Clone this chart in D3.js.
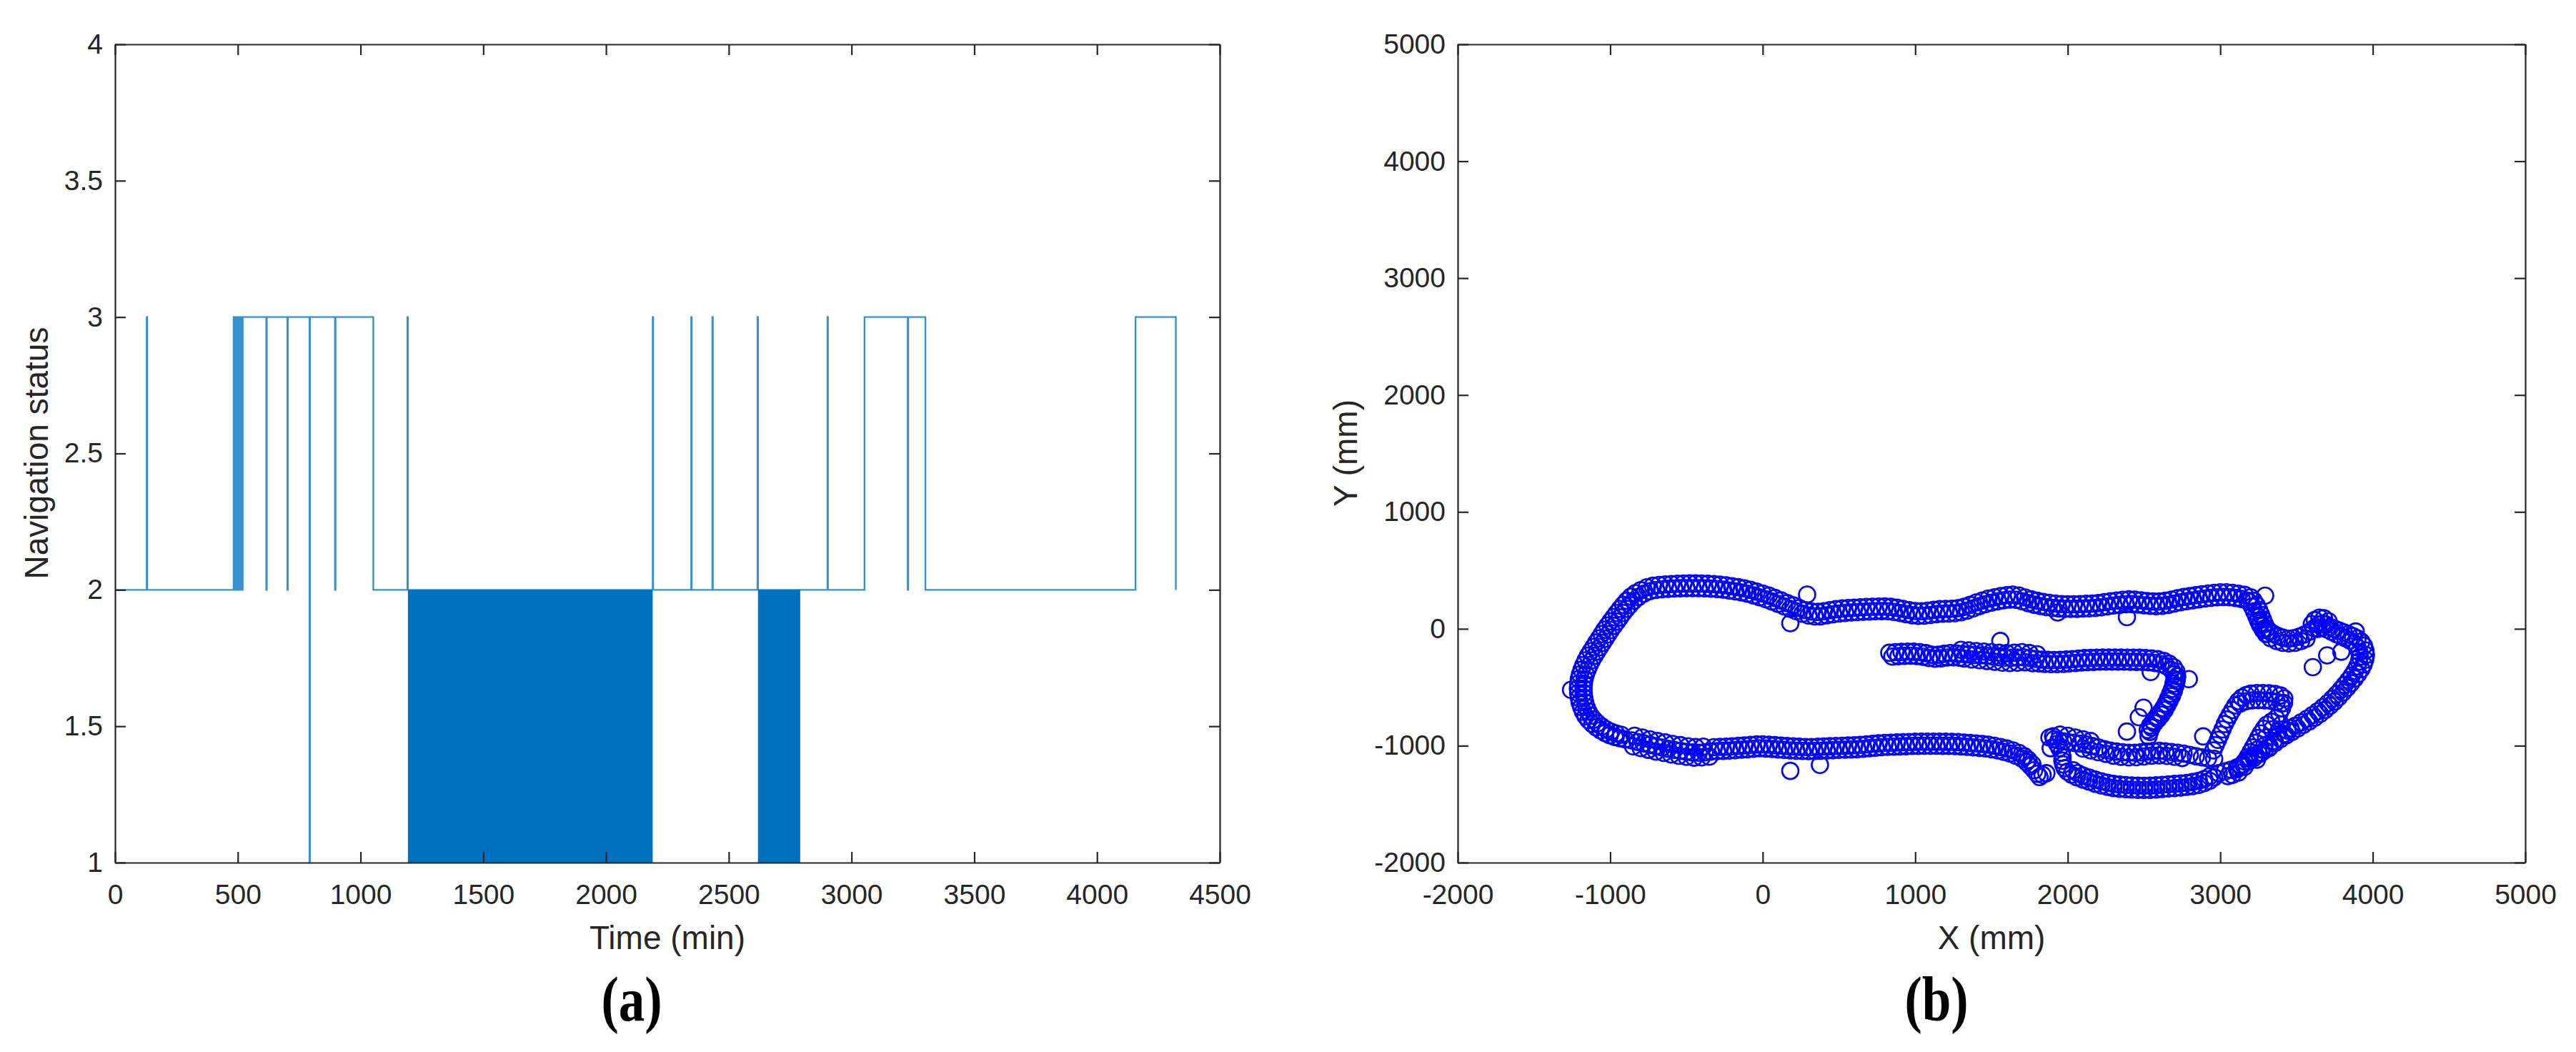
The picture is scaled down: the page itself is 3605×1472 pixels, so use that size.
<!DOCTYPE html>
<html><head><meta charset="utf-8">
<script src="https://cdn.jsdelivr.net/npm/d3@7"></script>
<style>body{margin:0;background:#fff} svg{display:block}</style>
</head><body>
<svg id="c" width="3605" height="1472"></svg>
<script>
// ---------- Panel (a): navigation status ----------
const statusTimes  = [0,129,131,483,487,490,494,497,503,508,514,520,616,618,702,704,792,794,896,898,1052,1191,1193,2190,2192,2347,2349,2433,2435,2617,2619,2902,2904,3053,3229,3231,3301,4157,4321];
const statusValues = [2,3,2,3,2,3,2,3,2,3,2,3,2,3,2,3,1,3,2,3,2,3,2,3,2,3,2,3,2,3,2,3,2,3,2,3,2,3,2];
// intervals where the status toggles 1 <-> 2 so fast that it renders as a solid block
const denseStart = [1193, 2619];
const denseEnd   = [2190, 2791];
const denseLow = 1, denseHigh = 2;
const timeTicks = [0,500,1000,1500,2000,2500,3000,3500,4000,4500];
const statusTicks = [1,1.5,2,2.5,3,3.5,4];

// ---------- Panel (b): trajectory (mm) ----------
const trackTop = [[-760,355],[-720,368],[-680,375],[-640,380],[-600,383],[-560,386],[-520,387],[-480,388],[-440,388],[-400,387],[-360,385],[-320,382],[-280,378],[-240,372],[-200,364],[-160,356],[-120,346],[-80,333],[-40,318],[0,302],[40,284],[80,264],[120,243],[160,220],[200,200],[240,178],[280,160],[320,148],[360,145],[400,150],[440,160],[480,168],[520,174],[560,178],[600,181],[640,184],[680,187],[720,189],[760,190],[800,191],[840,188],[880,180],[920,170],[960,160],[1000,152],[1040,150],[1080,155],[1120,162],[1160,168],[1200,170],[1240,172],[1280,176],[1320,188],[1360,205],[1400,225],[1440,242],[1480,258],[1520,270],[1560,280],[1600,288],[1640,292],[1680,285],[1720,268],[1760,252],[1800,240],[1840,230],[1880,222],[1920,216],[1960,212],[2000,210],[2040,210],[2080,212],[2120,214],[2160,216],[2200,220],[2240,228],[2280,236],[2320,242],[2360,248],[2400,252],[2440,250],[2480,244],[2520,238],[2560,234],[2600,234],[2640,240],[2680,250],[2720,262],[2760,272],[2800,280],[2840,288],[2880,296],[2920,302],[2960,308],[3000,312],[3040,312],[3080,308],[3120,300],[3160,290],[3200,270],
  [-740,322],[-700,332],[-660,338],[-620,342],[-580,345],[-540,347],[-500,348],[-460,348],[-420,348],[-380,346],[-340,344],[-300,340],[-260,335],[-220,328],[-180,320],[-140,311],[-100,300],[-60,286],[-20,270],[20,253],[60,234],[100,213],[140,192],[180,170],[220,150],[260,129],[300,114],[340,106],[380,107],[420,115],[460,124],[500,131],[540,136],[580,140],[620,143],[660,146],[700,148],[740,150],[780,151],[820,150],[860,144],[900,135],[940,125],[980,116],[1020,111],[1060,112],[1100,118],[1140,125],[1180,129],[1220,131],[1260,134],[1300,142],[1340,156],[1380,175],[1420,194],[1460,210],[1500,224],[1540,235],[1580,244],[1620,250],[1660,248],[1700,236],[1740,220],[1780,206],[1820,195],[1860,186],[1900,179],[1940,174],[1980,171],[2020,170],[2060,171],[2100,173],[2140,175],[2180,178],[2220,184],[2260,192],[2300,199],[2340,205],[2380,210],[2420,211],[2460,207],[2500,201],[2540,196],[2580,194],[2620,197],[2660,205],[2700,216],[2740,227],[2780,236],[2820,244],[2860,252],[2900,259],[2940,265],[2980,270],[3020,272],[3060,270],[3100,264],[3140,255],[3180,240]];
const trackLeft = [[-800,330],[-835,305],[-865,275],[-892,240],[-915,205],[-937,170],[-958,135],[-978,100],[-998,64],[-1018,28],[-1038,-8],[-1056,-45],[-1074,-82],[-1092,-118],[-1110,-155],[-1128,-192],[-1146,-230],[-1162,-270],[-1176,-310],[-1188,-350],[-1198,-390],[-1206,-430],[-1210,-470],[-1212,-510],[-1210,-550],[-1206,-590],[-1200,-630],[-1190,-670],[-1178,-710],[-1162,-748],[-1142,-782],[-1118,-814],[-1092,-843],[-1064,-869],[-1034,-891],[-1003,-910],[-970,-925],[-937,-936],[-903,-945],
  [-780,300],[-815,272],[-845,240],[-870,205],[-893,170],[-915,135],[-935,98],[-955,62],[-975,26],[-995,-10],[-1013,-47],[-1031,-84],[-1049,-120],[-1067,-157],[-1085,-194],[-1103,-231],[-1120,-270],[-1135,-310],[-1148,-350],[-1160,-390],[-1168,-430],[-1173,-470],[-1175,-510],[-1174,-550],[-1170,-590],[-1164,-630],[-1155,-670],[-1143,-708],[-1127,-744],[-1106,-778],[-1082,-808],[-1055,-836],[-1026,-860],[-995,-880],[-962,-895],[-928,-906]];
const trackBottom = [[-860,-955],[-820,-968],[-780,-980],[-740,-992],[-700,-1004],[-660,-1016],[-620,-1026],[-580,-1036],[-540,-1044],[-500,-1052],[-460,-1058],[-420,-1060],[-380,-1056],[-340,-1050],[-300,-1046],[-260,-1044],[-220,-1042],[-180,-1038],[-140,-1034],[-100,-1030],[-60,-1026],[-20,-1022],[20,-1024],[60,-1028],[100,-1032],[140,-1036],[180,-1040],[220,-1043],[260,-1045],[300,-1046],[340,-1045],[380,-1043],[420,-1041],[460,-1038],[500,-1036],[540,-1034],[580,-1032],[620,-1030],[660,-1026],[700,-1021],[740,-1017],[780,-1013],[820,-1010],[860,-1008],[900,-1006],[940,-1004],[980,-1002],[1020,-1001],[1060,-1000],[1100,-1000],[1140,-1000],[1180,-1001],[1220,-1001],[1260,-1003],[1300,-1006],[1340,-1010],[1380,-1014],[1420,-1018],[1460,-1023],[1500,-1030],[1540,-1040],[1580,-1052],[1620,-1066],[1660,-1085],[1700,-1110],[1730,-1140],[1755,-1175],[1780,-1210],[1800,-1240],[1815,-1268],[1835,-1250],[1860,-1235],
  [-840,-915],[-790,-930],[-740,-945],[-690,-960],[-640,-972],[-590,-985],[-540,-995],[-490,-1005],[-440,-1012],[-390,-1008],
  [-850,-1005],[-800,-1020],[-750,-1035],[-700,-1050],[-650,-1062],[-600,-1075],[-550,-1086],[-500,-1095],[-450,-1102],[-400,-1100],[-350,-1094],
  [-320,-1013],[-280,-1010],[-240,-1008],[-200,-1005],[-160,-1001],[-120,-997],[-80,-993],[-40,-989],[0,-988],[40,-991],[80,-995],[120,-999],[160,-1003],[200,-1006],[240,-1009],[280,-1011],[320,-1011],[360,-1009],[400,-1007],[440,-1004],[480,-1002],[520,-1000],[560,-998],[600,-996],[640,-993],[680,-989],[720,-984],[760,-980],[800,-976],[840,-974],[880,-972],[920,-970],[960,-968],[1000,-966],[1040,-965],[1080,-965],[1120,-965],[1160,-965],[1200,-966],[1240,-967],[1280,-969],[1320,-973],[1360,-977],[1400,-981],[1440,-985],[1480,-991],[1520,-1000],[1560,-1011],[1600,-1024],[1640,-1040],[1680,-1062],[1715,-1090],[1742,-1122],[1768,-1158]];
const trackInner = [[830,-205],[870,-200],[910,-197],[950,-195],[990,-196],[1030,-200],[1070,-208],[1110,-222],[1150,-222],[1190,-214],[1230,-207],[1270,-210],[1310,-215],[1350,-219],[1390,-223],[1430,-227],[1470,-232],[1510,-238],[1550,-244],[1590,-247],[1630,-248],[1670,-246],[1710,-244],[1750,-250],[1790,-258],[1830,-264],[1870,-266],[1910,-267],[1950,-266],[1990,-263],[2030,-259],[2070,-255],[2110,-251],[2150,-249],[2190,-247],[2230,-246],[2270,-245],[2310,-245],[2350,-246],[2390,-247],[2430,-247],[2470,-248],[2510,-250],[2550,-253],[2590,-260],[2630,-275],[2665,-298],[2695,-328],[2712,-365],[2718,-405],[2714,-445],[2705,-490],[2695,-535],[2683,-575],[2668,-615],[2652,-655],[2636,-695],[2615,-735],[2592,-772],[2568,-808],[2550,-845],[2538,-882],[2530,-920],
  [1300,-180],[1350,-185],[1400,-190],[1450,-195],[1500,-200],[1550,-205],[1600,-208],[1650,-205],[1700,-200],[1750,-208],[1800,-218],
  [1320,-255],[1370,-262],[1420,-268],[1470,-275],[1520,-282],[1570,-290],[1620,-293],[1670,-290],[1720,-286],[1770,-294],
  [850,-238],[890,-234],[930,-231],[970,-230],[1010,-233],[1050,-239],[1090,-250],[1130,-256],[1170,-252],[1210,-245],[1250,-243],[1290,-247],[1810,-296],[1850,-300],[1890,-302],[1930,-302],[1970,-300],[2010,-296],[2050,-292],[2090,-288],[2130,-285],[2170,-283],[2210,-281],[2250,-280],[2290,-280],[2330,-280],[2370,-281],[2410,-282],[2450,-283],[2490,-284],[2530,-287],[2570,-292],[2610,-302],[2648,-320],[2680,-352],[2697,-390],[2700,-430],[2693,-470],[2684,-515],[2672,-555],[2658,-597],[2643,-638],[2626,-678],[2605,-716],[2583,-752],[2560,-790],[2540,-827],[2525,-865]];
const trackMiddle = [[1880,-930],[1910,-945],[1940,-955],[1970,-962],[2000,-968],[2040,-975],[2080,-982],[2120,-990],[2160,-1002],[2200,-1015],[2240,-1030],[2280,-1042],[2320,-1050],[2360,-1056],[2400,-1060],[2440,-1060],[2480,-1056],[2520,-1050],[2560,-1045],[2600,-1044],[2640,-1048],[2680,-1054],[2720,-1060],[2760,-1068],[2800,-1078],[2840,-1090],[2880,-1100],[2920,-1108],[2960,-1112],
  [2100,-1025],[2150,-1040],[2200,-1055],[2250,-1070],[2300,-1085],[2350,-1095],[2400,-1100],[2450,-1098],[2500,-1092],[2550,-1085],[2600,-1082],[2650,-1088],[2700,-1095],[2750,-1105],
  [1950,-905],[2000,-915],[2050,-930],[2100,-945],[2150,-960],[1960,-1060],[1945,-1020],[1930,-985]];
const trackLoop = [[2955,-1040],[2970,-995],[2985,-950],[3000,-905],[3015,-860],[3030,-815],[3045,-775],[3062,-735],[3080,-695],[3098,-655],[3118,-618],[3142,-588],[3170,-566],[3200,-555],[3240,-550],[3280,-550],[3320,-552],[3360,-558],[3395,-570],[3420,-595],[3418,-635],[3405,-680],[3388,-725],[3365,-765],[3335,-795],[3305,-820],[3285,-855],[3265,-895],[3248,-935],[3232,-975],[3215,-1015],[3198,-1055],[3180,-1095],[3160,-1135],[3135,-1170],[3110,-1200],
  [3130,-640],[3170,-620],[3210,-612],[3250,-610],[3290,-612],[3330,-615],[3370,-625],[3400,-640],
  [3340,-860],[3380,-880],[3420,-900],[3300,-930],[3350,-960],[3290,-1000],[3250,-1030],[3230,-1080],[3190,-1110],[3460,-850],[3400,-820],[3440,-870],[3320,-1020],[3270,-1060],[3240,-1120],[3160,-1180],[3120,-1230],[3080,-1250],[3050,-1260]];
const trackRight = [[3220,240],[3240,200],[3255,160],[3268,120],[3280,80],[3292,40],[3305,5],[3322,-20],[3345,-40],[3375,-60],[3410,-75],[3445,-85],[3480,-80],[3515,-68],[3550,-50],[3585,-25],[3615,5],[3645,35],[3670,45],[3695,35],[3720,15],[3750,0],[3780,-15],[3810,-30],[3840,-45],[3870,-62],[3900,-82],[3925,-110],[3942,-145],[3952,-185],[3955,-225],[3950,-265],[3940,-305],[3925,-345],[3905,-385],[3882,-425],[3858,-465],[3832,-505],[3805,-545],[3778,-585],[3750,-622],[3720,-658],[3688,-694],[3655,-728],[3620,-760],[3583,-792],[3545,-822],[3508,-852],[3470,-882],[3432,-912],[3395,-944],[3360,-975],[3325,-1008],[3290,-1040],[3255,-1072],[3220,-1105],[3185,-1135],[3150,-1160],[3110,-1185],[3070,-1205],[3030,-1220],[2990,-1235],
  [3330,-80],[3370,-105],[3410,-120],[3450,-125],[3490,-120],[3530,-105],[3565,-85],
  [3620,75],[3650,95],[3680,90],[3710,65],[3600,40],[3250,100],[3265,50],[3285,0],[3300,-40],
  [3190,230],[3208,190],[3222,150],[3235,110],[3248,70],[3262,30],[3280,-10],[3300,-45],[3640,0],[3670,10],[3700,-5],[3730,-25],[3760,-45],[3790,-62],[3820,-80],[3850,-100],[3880,-125],[3900,-160],[3912,-200],[3915,-240],[3910,-280],[3898,-320],[3882,-360],[3862,-400],[3840,-440],[3815,-480],[3790,-520],[3762,-560],[3735,-598],[3705,-635],[3673,-670],[3640,-705],[3605,-738],[3568,-770],[3530,-800],[3492,-830]];
const trackLower = [[2960,-1270],[2930,-1300],[2895,-1320],[2860,-1335],[2820,-1345],[2780,-1352],[2740,-1358],[2700,-1362],[2660,-1366],[2620,-1370],[2580,-1374],[2540,-1377],[2500,-1378],[2460,-1377],[2420,-1375],[2380,-1372],[2340,-1368],[2300,-1362],[2260,-1352],[2220,-1340],[2180,-1325],[2140,-1308],[2100,-1290],[2060,-1270],[2025,-1248],[1998,-1222],[1980,-1192],[1970,-1160],[1965,-1128],[1966,-1095],
  [2930,-1262],[2895,-1285],[2860,-1300],[2820,-1310],[2780,-1318],[2740,-1323],[2700,-1327],[2660,-1331],[2620,-1335],[2580,-1339],[2540,-1342],[2500,-1343],[2460,-1342],[2420,-1340],[2380,-1337],[2340,-1333],[2300,-1327],[2260,-1317],[2220,-1305],[2180,-1290],[2140,-1273],[2100,-1255],[2065,-1234],[2035,-1210]];
const strayPoints = [[291,293],[181,48],[-1257,-522],[181,-1215],[375,-1164],[2544,-369],[2794,-430],[2497,-675],[2466,-756],[2388,-879],[3607,-328],[3701,-227],[3794,-196],[3888,-23],[1904,-920],[1888,-1021],[2388,100],[1934,140],[3294,283],[1558,-104],[2888,-920]];
const posTicks = [-2000,-1000,0,1000,2000,3000,4000,5000];

// ---------- drawing ----------
const svg = d3.select("#c");
svg.append("rect").attr("width",3605).attr("height",1472).attr("fill","#fff");
const FONT = "'Liberation Sans', Arial, Helvetica, sans-serif";
const INK = "#262626";

function frame(g, x, y, xt, yt) {
  const [x0, x1] = x.range(), [yb, yt0] = y.range();
  const fmt = d => String(d);
  const bottom = g.append("g").attr("transform", `translate(0,${yb})`)
    .call(d3.axisBottom(x).tickValues(xt).tickFormat(fmt).tickSizeInner(-15).tickSizeOuter(0).tickPadding(30));
  const top = g.append("g").attr("transform", `translate(0,${yt0})`)
    .call(d3.axisTop(x).tickValues(xt).tickFormat("").tickSizeInner(-15).tickSizeOuter(0));
  const left = g.append("g").attr("transform", `translate(${x0},0)`)
    .call(d3.axisLeft(y).tickValues(yt).tickFormat(fmt).tickSizeInner(-15).tickSizeOuter(0).tickPadding(17));
  const right = g.append("g").attr("transform", `translate(${x1},0)`)
    .call(d3.axisRight(y).tickValues(yt).tickFormat("").tickSizeInner(-15).tickSizeOuter(0));
  [bottom, top, left, right].forEach(a => {
    a.select(".domain").attr("stroke", INK).attr("stroke-width", 2.2);
    a.selectAll(".tick line").attr("stroke", INK).attr("stroke-width", 2.2);
    a.selectAll("text").attr("font-family", FONT).attr("font-size", 39).attr("fill", INK);
  });
}

// Panel (a)
const xA = d3.scaleLinear().domain([0, 4500]).range([161, 1707]);
const yA = d3.scaleLinear().domain([1, 4]).range([1207, 62]);
const gA = svg.append("g");
denseStart.forEach((s, i) => {
  gA.append("rect").attr("x", xA(s)).attr("y", yA(denseHigh))
    .attr("width", xA(denseEnd[i]) - xA(s)).attr("height", yA(denseLow) - yA(denseHigh))
    .attr("fill", "#0072BD");
});
const stepData = statusTimes.map((t, i) => [t, statusValues[i]]);
gA.append("path").datum(stepData)
  .attr("d", d3.line().x(d => xA(d[0])).y(d => yA(d[1])).curve(d3.curveStepAfter))
  .attr("fill", "none").attr("stroke", "#0072BD").attr("stroke-width", 2.4).attr("stroke-opacity", 0.78);
frame(gA, xA, yA, timeTicks, statusTicks);
gA.append("text").attr("transform", "translate(67,634) rotate(-90)").attr("text-anchor", "middle")
  .attr("font-family", FONT).attr("font-size", 46).attr("fill", INK).text("Navigation status");
gA.append("text").attr("x", 934).attr("y", 1328).attr("text-anchor", "middle")
  .attr("font-family", FONT).attr("font-size", 46).attr("fill", INK).text("Time (min)");
gA.append("text").attr("transform", "translate(884,1428) scale(0.83,1)").attr("text-anchor", "middle")
  .attr("font-family", "'Liberation Serif', 'Times New Roman', serif").attr("font-weight", "bold")
  .attr("font-size", 88).attr("fill", "#000").text("(a)");

// Panel (b)
const xB = d3.scaleLinear().domain([-2000, 5000]).range([2040, 3534]);
const yB = d3.scaleLinear().domain([-2000, 5000]).range([1207, 62]);
const gB = svg.append("g");
const allPts = [].concat(trackTop, trackLeft, trackBottom, trackInner, trackMiddle, trackLoop, trackRight, trackLower, strayPoints);
gB.append("g").selectAll("circle").data(allPts).join("circle")
  .attr("cx", d => xB(d[0])).attr("cy", d => yB(d[1])).attr("r", 11.5)
  .attr("fill", "none").attr("stroke", "#0000FF").attr("stroke-width", 2.6);
frame(gB, xB, yB, posTicks, posTicks);
gB.append("text").attr("transform", "translate(1899,634) rotate(-90)").attr("text-anchor", "middle")
  .attr("font-family", FONT).attr("font-size", 46).attr("fill", INK).text("Y (mm)");
gB.append("text").attr("x", 2787).attr("y", 1328).attr("text-anchor", "middle")
  .attr("font-family", FONT).attr("font-size", 46).attr("fill", INK).text("X (mm)");
gB.append("text").attr("transform", "translate(2710,1428) scale(0.83,1)").attr("text-anchor", "middle")
  .attr("font-family", "'Liberation Serif', 'Times New Roman', serif").attr("font-weight", "bold")
  .attr("font-size", 88).attr("fill", "#000").text("(b)");
</script>
</body></html>
